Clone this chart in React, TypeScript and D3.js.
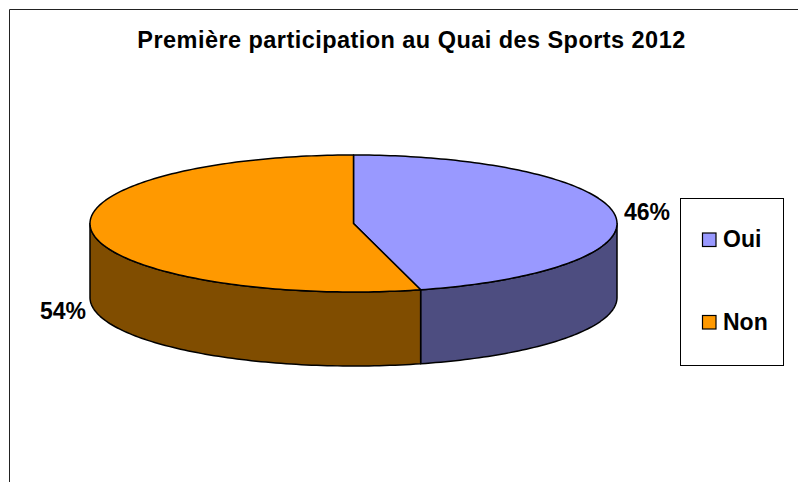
import * as d3 from 'd3';

const titleText = 'Première participation au Quai des Sports 2012';
const categories = ['Oui', 'Non'];
const shares = [0.459, 0.541];
const topColors = ['#9999ff', '#ff9900'];
const sideColors = ['#4d4d80', '#804d00'];

const W = 798;
const H = 482;
const depth = 74;
const font = '"Liberation Sans", Arial, sans-serif';

// unit circle onto the flattened top ellipse
const xScale = d3.scaleLinear().domain([-1, 1]).range([90, 617]);
const yScale = d3.scaleLinear().domain([-1, 1]).range([155, 292]);
const pct = d3.format('.0%');

const arcs = d3
  .pie<number>()
  .sort(null)(shares);

const px = (a: number) => xScale(Math.sin(a));
const py = (a: number) => yScale(-Math.cos(a));

// angles along an arc, used to trace the ellipse
const sweep = (a0: number, a1: number) => {
  const n = Math.ceil(Math.abs(a1 - a0) / 0.02);
  return d3.range(n + 1).map((i) => a0 + ((a1 - a0) * i) / n);
};

const line = d3.line<[number, number]>();

const topPath = (a0: number, a1: number) => {
  const pts = sweep(a0, a1).map((a) => [px(a), py(a)] as [number, number]);
  return line([[xScale(0), yScale(0)], ...pts]) + 'Z';
};

// visible wall: front part of the ellipse only, lower half of the pie
const sidePath = (a0: number, a1: number) => {
  const from = Math.max(a0, Math.PI / 2);
  const to = Math.min(a1, (Math.PI * 3) / 2);
  if (to <= from) return null;
  const angles = sweep(from, to);
  const upper = angles.map((a) => [px(a), py(a)] as [number, number]);
  const lower = [...angles]
    .reverse()
    .map((a) => [px(a), py(a) + depth] as [number, number]);
  return line([...upper, ...lower]) + 'Z';
};

export default function App() {
  return (
    <svg
      width={W}
      height={H}
      style={{ position: 'absolute', left: 0, top: 0, background: '#fff' }}
      fontFamily={font}
      fontWeight="bold"
      fill="#000"
    >
      {/* chart frame, cut off by the picture on the right and bottom */}
      <path d={`M9.5,${H}V9.5H${W}`} fill="none" stroke="#222" strokeWidth={1} />

      <text x={411.5} y={48} textAnchor="middle" fontSize={23.5} letterSpacing={0.45}>
        {titleText}
      </text>

      {arcs.map((d, i) => {
        const p = sidePath(d.startAngle, d.endAngle);
        return p ? (
          <path key={i} d={p} fill={sideColors[i]} stroke="#000" strokeWidth={1.5} strokeLinejoin="round" />
        ) : null;
      })}
      {arcs.map((d, i) => (
        <path
          key={i}
          d={topPath(d.startAngle, d.endAngle)}
          fill={topColors[i]}
          stroke="#000"
          strokeWidth={1.5}
          strokeLinejoin="round"
        />
      ))}

      <text x={647} y={219.5} textAnchor="middle" fontSize={23}>
        {pct(shares[0])}
      </text>
      <text x={63} y={318.5} textAnchor="middle" fontSize={23}>
        {pct(shares[1])}
      </text>

      <rect x={680.5} y={198.5} width={103} height={167} fill="#fff" stroke="#000" strokeWidth={1} />
      {categories.map((c, i) => {
        const rowY = 240 + i * 82.5;
        return (
          <g key={c}>
            <rect x={702.5} y={rowY - 7} width={13.5} height={13.5} fill={topColors[i]} stroke="#000" strokeWidth={1.2} />
            <text x={723} y={rowY + 7} fontSize={23}>
              {c}
            </text>
          </g>
        );
      })}
    </svg>
  );
}
